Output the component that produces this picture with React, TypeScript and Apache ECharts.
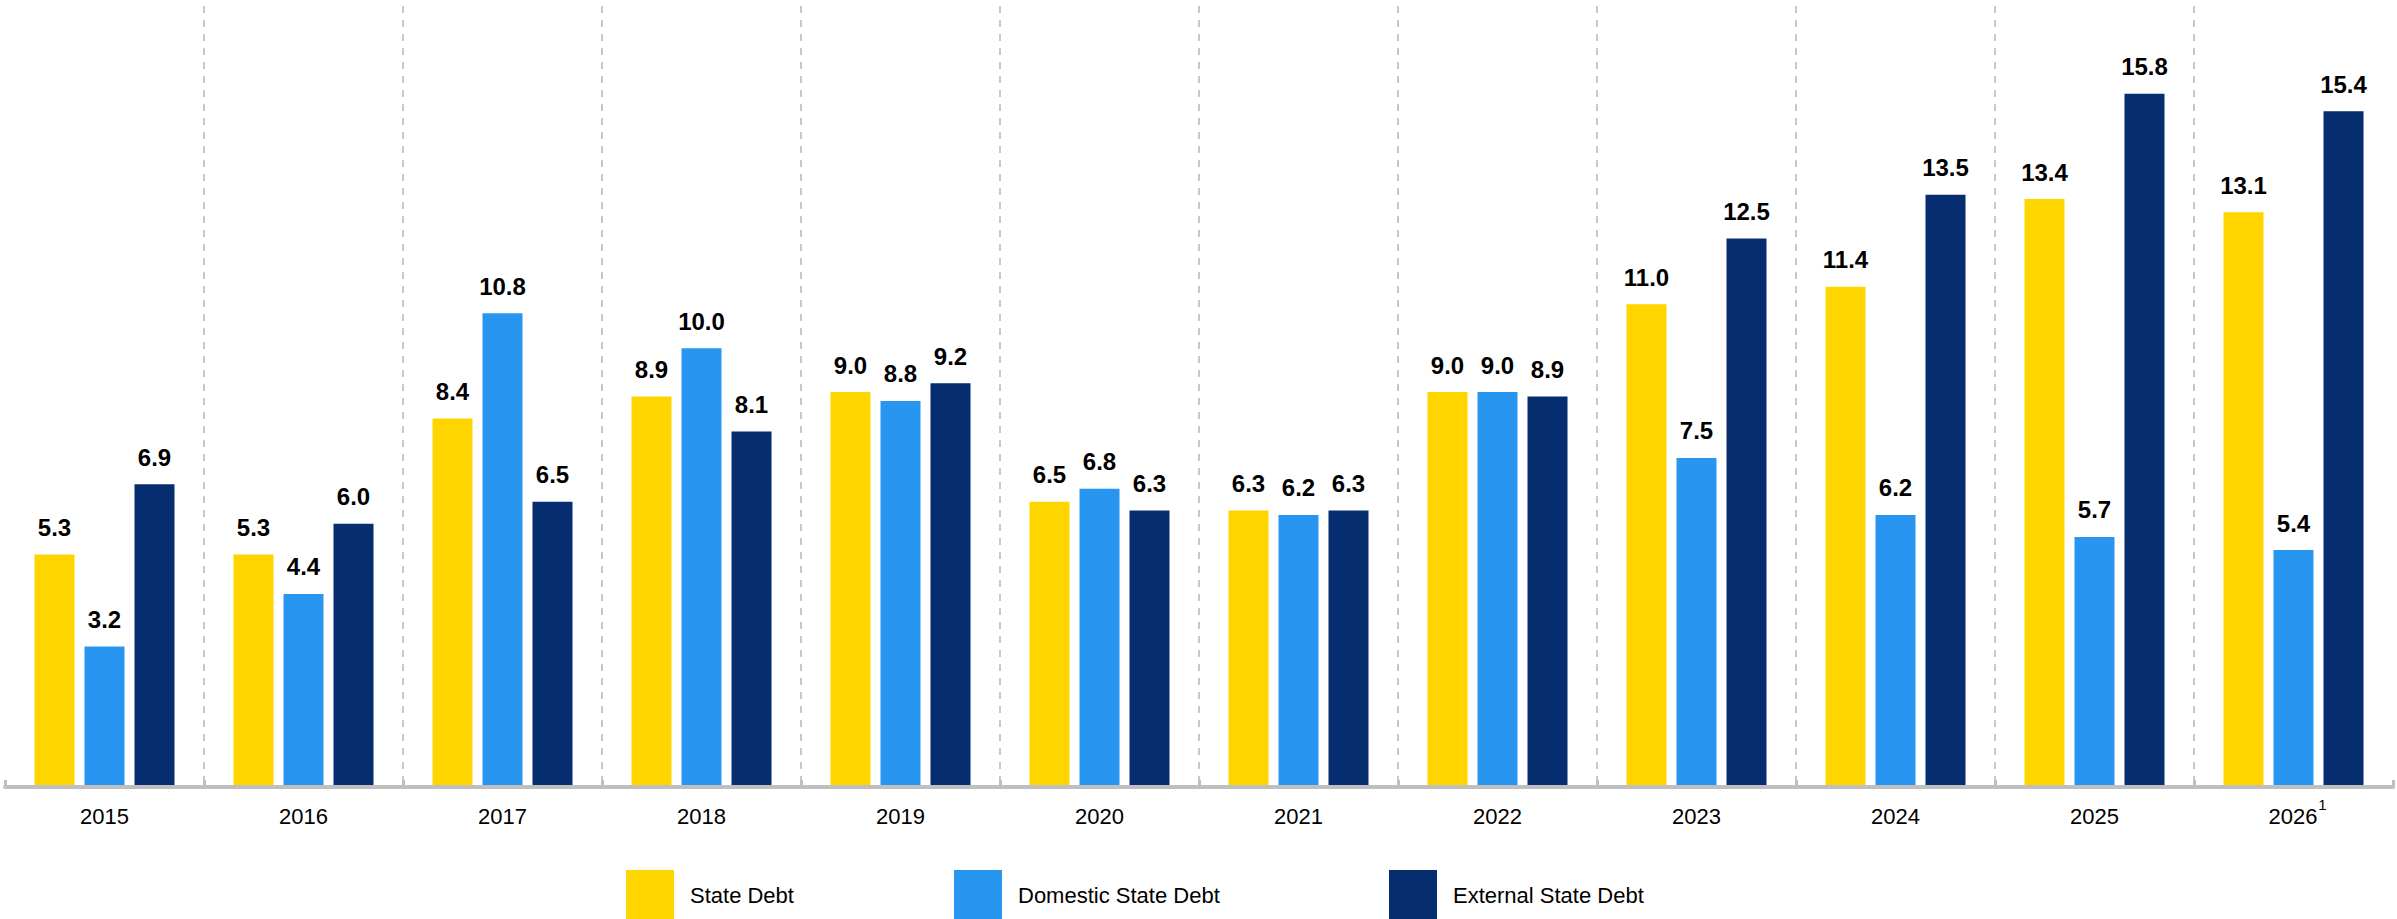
import React, { useEffect, useRef } from 'react';
import * as echarts from 'echarts';

const years = ['2015', '2016', '2017', '2018', '2019', '2020', '2021', '2022', '2023', '2024', '2025', '2026'];
const footnotedYear = '2026';
const stateDebt = [5.3, 5.3, 8.4, 8.9, 9.0, 6.5, 6.3, 9.0, 11.0, 11.4, 13.4, 13.1];
const domesticDebt = [3.2, 4.4, 10.8, 10.0, 8.8, 6.8, 6.2, 9.0, 7.5, 6.2, 5.7, 5.4];
const externalDebt = [6.9, 6.0, 6.5, 8.1, 9.2, 6.3, 6.3, 8.9, 12.5, 13.5, 15.8, 15.4];
const seriesNames = ['State Debt', 'Domestic State Debt', 'External State Debt'];
const seriesColors = ['#FFD500', '#2896F0', '#062D6F'];
const legendLefts = [626, 954, 1389];

const FONT = '"Liberation Sans", Arial, sans-serif';

export default function App() {
  const ref = useRef<HTMLDivElement>(null);
  useEffect(() => {
    const chart = echarts.init(ref.current as HTMLDivElement, null, { renderer: 'svg' });
    const data = [stateDebt, domesticDebt, externalDebt];
    const option: any = {
      animation: false,
      backgroundColor: '#ffffff',
      grid: { left: 5, right: 4, top: 6, bottom: 132, containLabel: false },
      legend: seriesNames.map((name, i) => ({
        data: [name],
        left: legendLefts[i],
        top: 870,
        padding: 0,
        orient: 'horizontal',
        icon: 'rect',
        itemWidth: 48,
        itemHeight: 50,
        selectedMode: false,
        textStyle: { fontSize: 22, color: '#000', fontFamily: FONT, padding: [0, 0, 0, 11] },
      })),
      xAxis: {
        type: 'category',
        data: years,
        boundaryGap: true,
        z: 5,
        axisLine: { show: true, lineStyle: { color: '#BFBFBF', width: 4 } },
        axisTick: { show: true, interval: 0, inside: true, length: 7, lineStyle: { color: '#BFBFBF', width: 3 } },
        splitLine: {
          show: true,
          interval: 0,
          showMinLine: false,
          showMaxLine: false,
          lineStyle: { color: '#C8C8C8', width: 2, type: [7, 7] },
        },
        axisLabel: {
          interval: 0,
          margin: 10,
          fontSize: 22,
          color: '#000',
          fontFamily: FONT,
          formatter: (v: string) => (v === footnotedYear ? `{sp| }{y|${v}}{s|1}` : `{sp| }{y|${v}}{sp| }`),
          rich: {
            y: { fontSize: 22, color: '#000', fontFamily: FONT },
            sp: { fontSize: 15, width: 8, padding: [0, 0, 24, 0] },
            s: { fontSize: 15, width: 8, color: '#000', fontFamily: FONT, padding: [0, 0, 24, 1] },
          },
        },
      },
      yAxis: { type: 'value', min: 0, max: 17.8, show: false },
      series: seriesNames.map((name, i) => ({
        name,
        type: 'bar',
        data: data[i],
        barWidth: 40,
        barGap: '25%',
        itemStyle: { color: seriesColors[i] },
        label: {
          show: true,
          position: 'top',
          distance: 15,
          fontSize: 24,
          fontWeight: 'bold',
          color: '#000',
          fontFamily: FONT,
          formatter: (p: any) => Number(p.value).toFixed(1),
        },
      })),
    };
    chart.setOption(option);
    return () => chart.dispose();
  }, []);
  return (
    <div
      ref={ref}
      style={{ position: 'fixed', left: 0, top: 0, width: 2397, height: 919, background: '#fff' }}
    />
  );
}
